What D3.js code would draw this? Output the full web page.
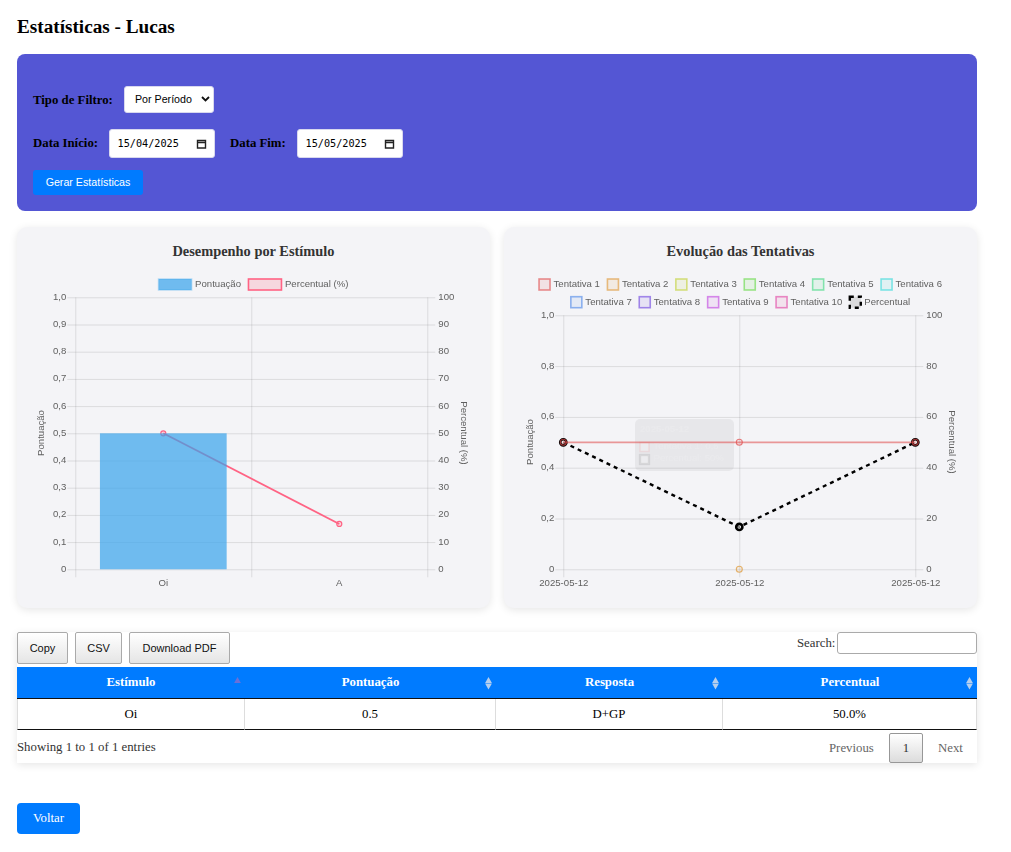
<!DOCTYPE html>
<html lang="pt-BR">
<head>
<meta charset="utf-8">
<title>Estatísticas - Lucas</title>
<script src="https://cdn.jsdelivr.net/npm/d3@7"></script>
<style>
    html, body { margin: 0; padding: 0; background: #fff; }
    body { width: 1011px; height: 852px; position: relative; overflow: hidden; font-family: "Liberation Serif", serif; font-size: 12.8px; color: #000; }
    .abs { position: absolute; box-sizing: border-box; white-space: nowrap; }
    .sans { font-family: "Liberation Sans", sans-serif; }
    h2.abs { margin: 0; left: 17px; top: 16px; font-size: 19.2px; line-height: 22px; }
    .panel { left: 17px; top: 54px; width: 960px; height: 157px; background: #5456d4; border-radius: 8px; }
    .lbl { font-weight: bold; font-size: 12.8px; line-height: 16px; }
    .field { background: #fff; border-radius: 3px; border: 1px solid #d8d8ee; }
    .sel { left: 124px; top: 86px; width: 90px; height: 27px; font-size: 10.67px; line-height: 25px; padding-left: 10px; }
    .date { top: 129px; width: 106px; height: 29px; font-family: "DejaVu Sans Mono", monospace; font-size: 10.2px; line-height: 27px; padding-left: 7.5px; }
    .date svg, .sel svg { position: absolute; }
    .gen { left: 33px; top: 170px; width: 110px; height: 25px; background: #007bff; color: #fff; border-radius: 3px; font-size: 10.67px; line-height: 25px; text-align: center; }
    .card { top: 227px; width: 473px; height: 381px; background: #f4f4f7; border-radius: 10px; box-shadow: 0 2px 8px rgba(0,0,0,.1); }
    .card h3 { margin: 0; position: absolute; left: 0; right: 0; top: 16px; text-align: center; font-size: 14.4px; line-height: 17px; color: #333; }
    .card svg { position: absolute; left: 0; top: 0; filter: blur(.3px); }
    .tablebox { left: 17px; top: 632px; width: 960px; height: 131px; background: #fff; box-shadow: 0 2px 8px rgba(0,0,0,.1); }
    .tbtn { top: 632px; height: 32px; background: linear-gradient(#fff, #e5e5e5); border: 1px solid #aaa; border-radius: 2px; font-size: 11px; line-height: 30px; text-align: center; color: #111; }
    .search { left: 837px; top: 632px; width: 140px; height: 22px; border: 1px solid #aaa; border-radius: 3px; background: #fff; }
    table { position: absolute; left: 17px; top: 667px; width: 960px; border-collapse: separate; border-spacing: 0; table-layout: fixed; }
    th { height: 32px; box-sizing: border-box; padding: 0; background: #007bff; color: #fff; font-size: 12.8px; border-bottom: 1.3px solid #111; }
    td { height: 31px; box-sizing: border-box; padding: 0; text-align: center; font-size: 12.8px; font-weight: normal; border-right: 1.3px solid #ddd; border-bottom: 1.3px solid #111; }
    td:first-child { border-left: 1.3px solid #ddd; }
    .page1 { left: 889px; top: 733px; width: 34px; height: 30px; background: linear-gradient(#fff, #dcdcdc); border: 1px solid #979797; border-radius: 2px; text-align: center; line-height: 28px; color: #333; }
    .pg { top: 740px; line-height: 16px; color: #666; }
    .back { left: 17px; top: 803px; width: 63px; height: 31px; background: #007bff; color: #fff; border-radius: 4px; text-align: center; line-height: 30px; }
    .sort { position: absolute; left: 0; top: 0; pointer-events: none; }
</style>
</head>
<body>
<h2 class="abs">Estatísticas - Lucas</h2>

<div class="abs panel"></div>
<div class="abs lbl" style="left:33px;top:92px">Tipo de Filtro:</div>
<div class="abs field sel sans">Por Período
    <svg width="9" height="6" style="left:76px;top:9px"><path d="M1 1l3.5 3.5L8 1" fill="none" stroke="#111" stroke-width="1.8"/></svg>
</div>
<div class="abs lbl" style="left:33px;top:135px">Data Início:</div>
<div class="abs field date" style="left:109px">15/04/2025
    <svg width="11" height="11" style="left:85.5px;top:8px"><path d="M1.5 2.5h8v7.5h-8zM1.5 4.5h8" fill="none" stroke="#222" stroke-width="1.4"/></svg>
</div>
<div class="abs lbl" style="left:230px;top:135px">Data Fim:</div>
<div class="abs field date" style="left:297px">15/05/2025
    <svg width="11" height="11" style="left:85.5px;top:8px"><path d="M1.5 2.5h8v7.5h-8zM1.5 4.5h8" fill="none" stroke="#222" stroke-width="1.4"/></svg>
</div>
<div class="abs gen sans">Gerar Estatísticas</div>

<div class="abs card" id="card-stimulus" style="left:17px"><h3>Desempenho por Estímulo</h3></div>
<div class="abs card" id="card-attempts" style="left:504px"><h3>Evolução das Tentativas</h3></div>

<div class="abs tablebox"></div>
<div class="abs tbtn sans" style="left:17px;width:51px">Copy</div>
<div class="abs tbtn sans" style="left:75px;width:47px">CSV</div>
<div class="abs tbtn sans" style="left:129px;width:101px">Download PDF</div>
<div class="abs" style="left:797px;top:635px;line-height:16px;color:#333">Search:</div>
<div class="abs search"></div>
<table id="stats-table"><colgroup><col style="width:228px"><col style="width:251px"><col style="width:227px"><col style="width:254px"></colgroup><thead><tr></tr></thead><tbody></tbody></table>
<svg class="sort" id="sort-icons" width="1011" height="852"></svg>
<div class="abs" style="left:17px;top:739px;line-height:16px;color:#333">Showing 1 to 1 of 1 entries</div>
<div class="abs pg" style="left:829px">Previous</div>
<div class="abs page1">1</div>
<div class="abs pg" style="left:938px">Next</div>
<div class="abs back">Voltar</div>

<script>
// Chart 1 data
const stimulusLabels = ['Oi', 'A'];
const stimulusScores = [0.5, 0];
const stimulusPercents = [50, 16.67];

// Chart 2 data
const attemptDates = ['2025-05-12', '2025-05-12', '2025-05-12'];
const attempt1 = [0.5, 0.5, 0.5];
const attempt2 = [null, 0, null];
const attemptPercents = [50, 16.67, 50];
const attemptNames = ['Tentativa 1', 'Tentativa 2', 'Tentativa 3', 'Tentativa 4', 'Tentativa 5',
    'Tentativa 6', 'Tentativa 7', 'Tentativa 8', 'Tentativa 9', 'Tentativa 10'];

// Tick values
const scoreTicks1 = [0, 0.1, 0.2, 0.3, 0.4, 0.5, 0.6, 0.7, 0.8, 0.9, 1];
const percentTicks1 = [0, 10, 20, 30, 40, 50, 60, 70, 80, 90, 100];
const scoreTicks2 = [0, 0.2, 0.4, 0.6, 0.8, 1];
const percentTicks2 = [0, 20, 40, 60, 80, 100];

// Table data
const tableHeaders = ['Estímulo', 'Pontuação', 'Resposta', 'Percentual'];
const tableRow = ['Oi', '0.5', 'D+GP', '50.0%'];

const attemptColors = ['#e04848', '#dd9530', '#bfd030', '#60d840', '#40d880',
    '#30d8d8', '#4a86e8', '#6a40e0', '#c040e0', '#e040a0'];
const PINK = '#ff6384';
const BLUE = 'rgb(54,162,235)';
const GRID = 'rgba(0,0,0,0.1)';
const TEXT = '#5f5f5f';
const FONT = '"Liberation Sans", sans-serif';
const CARD_W = 473, CARD_H = 381;
const TICK = 8;

// comma decimals, and plain 0 like the original axis
const fmtScore = v => v === 0 ? '0' : d3.format('.1f')(v).replace('.', ',');

function makeSvg(id) {
    const svg = d3.select(id).append('svg').attr('width', CARD_W).attr('height', CARD_H)
        .style('font-family', FONT).style('font-size', '9.6px');
    return svg;
}

// horizontal grid plus both value axes, shared by the two charts
function drawValueAxes(svg, box, yLeft, yRight, leftTicks, rightTicks) {
    svg.append('g').attr('transform', `translate(${box.left - TICK},0)`)
        .call(d3.axisRight(yLeft).tickValues(leftTicks).tickFormat('').tickSize(box.width + TICK * 2))
        .call(g => g.select('.domain').remove())
        .call(g => g.selectAll('line').attr('stroke', GRID));

    svg.append('g').attr('transform', `translate(${box.left - TICK},0)`)
        .call(d3.axisLeft(yLeft).tickValues(leftTicks).tickFormat(fmtScore).tickSize(0).tickPadding(1))
        .call(g => g.select('.domain').remove())
        .call(g => g.selectAll('text').attr('y', -1).attr('fill', TEXT).style('font', `9.6px ${FONT}`));

    svg.append('g').attr('transform', `translate(${box.left + box.width + TICK},0)`)
        .call(d3.axisRight(yRight).tickValues(rightTicks).tickSize(0).tickPadding(3))
        .call(g => g.select('.domain').remove())
        .call(g => g.selectAll('text').attr('y', -1).attr('fill', TEXT).style('font', `9.6px ${FONT}`));
}

function axisTitle(svg, text, x, y, angle) {
    svg.append('text').attr('transform', `translate(${x},${y}) rotate(${angle})`)
        .attr('text-anchor', 'middle').attr('dominant-baseline', 'middle')
        .attr('fill', TEXT).text(text);
}

function drawStimulusChart() {
    const svg = makeSvg('#card-stimulus');
    const box = { left: 58.3, top: 70.3, width: 352, height: 272 };
    const bottom = box.top + box.height;

    const x = d3.scaleBand().domain(stimulusLabels).range([box.left, box.left + box.width]);
    const edges = d3.scaleLinear().domain([0, stimulusLabels.length]).range([box.left, box.left + box.width]);
    const barX = d3.scaleBand().domain(stimulusLabels).range([box.left, box.left + box.width]).paddingInner(0.28).paddingOuter(0.14);
    const yScore = d3.scaleLinear().domain([0, 1]).range([bottom, box.top]);
    const yPercent = d3.scaleLinear().domain([0, 100]).range([bottom, box.top]);

    drawValueAxes(svg, box, yScore, yPercent, scoreTicks1, percentTicks1);

    // vertical grid between categories
    svg.append('g').attr('transform', `translate(0,${bottom + TICK})`)
        .call(d3.axisTop(edges).tickValues(d3.range(stimulusLabels.length + 1)).tickFormat('').tickSize(box.height + TICK))
        .call(g => g.select('.domain').remove())
        .call(g => g.selectAll('line').attr('stroke', GRID));

    svg.append('g').attr('transform', `translate(0,${bottom})`)
        .call(d3.axisBottom(x).tickSize(0).tickPadding(10))
        .call(g => g.select('.domain').remove())
        .call(g => g.selectAll('text').attr('fill', TEXT).style('font', `9.6px ${FONT}`));

    axisTitle(svg, 'Pontuação', 24.7, 206, -90);
    axisTitle(svg, 'Percentual (%)', 447, 206, 90);

    // the line sits under the bar, as in the original
    const line = d3.line().x((d, i) => x(stimulusLabels[i]) + x.bandwidth() / 2).y(d => yPercent(d));
    svg.append('path').attr('d', line(stimulusPercents)).attr('fill', 'none').attr('stroke', PINK).attr('stroke-width', 1.8);
    svg.selectAll('.pt').data(stimulusPercents).join('circle').attr('class', 'pt')
        .attr('cx', (d, i) => x(stimulusLabels[i]) + x.bandwidth() / 2)
        .attr('cy', d => yPercent(d)).attr('r', 2.5)
        .attr('fill', 'rgba(255,99,132,0.2)').attr('stroke', PINK).attr('stroke-width', 1.2);

    svg.selectAll('.bar').data(stimulusScores).join('rect').attr('class', 'bar')
        .attr('x', (d, i) => barX(stimulusLabels[i])).attr('width', barX.bandwidth())
        .attr('y', d => yScore(d)).attr('height', d => bottom - yScore(d))
        .attr('fill', BLUE).attr('fill-opacity', 0.7);

    drawLegend(svg, [
        { name: 'Pontuação', fill: BLUE, fillOpacity: 0.7, stroke: BLUE, strokeOpacity: 0.3, w: 33 },
        { name: 'Percentual (%)', fill: PINK, fillOpacity: 0.2, stroke: PINK, strokeOpacity: 1, w: 33 }
    ], 236.5, [52], [[0, 2]]);
}

function drawAttemptsChart() {
    const svg = makeSvg('#card-attempts');
    const box = { left: 59.3, top: 88.3, width: 352, height: 254 };
    const bottom = box.top + box.height;

    const x = d3.scalePoint().domain(d3.range(attemptDates.length)).range([box.left, box.left + box.width]);
    const yScore = d3.scaleLinear().domain([0, 1]).range([bottom, box.top]);
    const yPercent = d3.scaleLinear().domain([0, 100]).range([bottom, box.top]);

    drawValueAxes(svg, box, yScore, yPercent, scoreTicks2, percentTicks2);

    svg.append('g').attr('transform', `translate(0,${bottom + TICK})`)
        .call(d3.axisTop(x).tickFormat('').tickSize(box.height + TICK))
        .call(g => g.select('.domain').remove())
        .call(g => g.selectAll('line').attr('stroke', GRID));

    svg.append('g').attr('transform', `translate(0,${bottom})`)
        .call(d3.axisBottom(x).tickFormat(i => attemptDates[i]).tickSize(0).tickPadding(10))
        .call(g => g.select('.domain').remove())
        .call(g => g.selectAll('text').attr('fill', TEXT).style('font', `9.6px ${FONT}`));

    axisTitle(svg, 'Pontuação', 26, 215, -90);
    axisTitle(svg, 'Percentual (%)', 447.7, 215, 90);

    // tooltip left fading out in the original screenshot
    svg.append('rect').attr('x', 131).attr('y', 192).attr('width', 99).attr('height', 52).attr('rx', 5)
        .attr('fill', '#000').attr('fill-opacity', 0.05);
    const tipText = svg.append('g').attr('fill', '#fff').attr('opacity', 0.12);
    tipText.append('text').attr('x', 136).attr('y', 205).style('font-weight', 'bold').text(attemptDates[1]);
    tipText.append('text').attr('x', 149.5).attr('y', 222).text('Tentativa 1: 0,5');
    tipText.append('text').attr('x', 149.5).attr('y', 234).text('Percentual: 50%');
    svg.append('rect').attr('x', 136).attr('y', 215.5).attr('width', 9).attr('height', 9)
        .attr('fill', '#fff').attr('fill-opacity', 0.2).attr('stroke', attemptColors[0]).attr('stroke-opacity', 0.1).attr('stroke-width', 1.6);
    svg.append('rect').attr('x', 136).attr('y', 228).attr('width', 9).attr('height', 9)
        .attr('fill', '#fff').attr('fill-opacity', 0.2).attr('stroke', '#000').attr('stroke-opacity', 0.09).attr('stroke-width', 2.4);

    const line = d3.line().defined(d => d !== null).x((d, i) => x(i));

    // Percentual first: chart.js paints the first dataset on top
    svg.append('path').attr('d', line.y(d => yPercent(d))(attemptPercents))
        .attr('fill', 'none').attr('stroke', '#000').attr('stroke-width', 2.4).attr('stroke-dasharray', '4,4');
    svg.selectAll('.pct').data(attemptPercents).join('circle').attr('class', 'pct')
        .attr('cx', (d, i) => x(i)).attr('cy', d => yPercent(d)).attr('r', 3.1)
        .attr('fill', 'rgba(255,255,255,0.5)').attr('stroke', '#000').attr('stroke-width', 2.6);

    [[attempt2, 1], [attempt1, 0]].forEach(([values, idx]) => {
        const color = attemptColors[idx];
        svg.append('path').attr('d', line.y(d => yScore(d))(values))
            .attr('fill', 'none').attr('stroke', color).attr('stroke-opacity', 0.55).attr('stroke-width', 1.8);
        svg.selectAll(`.pt${idx}`).data(values.map((v, i) => ({ v, i })).filter(d => d.v !== null)).join('circle')
            .attr('class', `pt${idx}`)
            .attr('cx', d => x(d.i)).attr('cy', d => yScore(d.v)).attr('r', 3)
            .attr('fill', color).attr('fill-opacity', 0.1)
            .attr('stroke', color).attr('stroke-opacity', 0.7).attr('stroke-width', 1.1);
    });

    const items = attemptNames.map((name, i) => ({
        name, fill: attemptColors[i], fillOpacity: 0.1, stroke: attemptColors[i], strokeOpacity: 0.6, w: 11
    }));
    items.push({ name: 'Percentual', fill: '#000', fillOpacity: 0.1, stroke: '#000', strokeOpacity: 1, w: 11, dash: '4,4', sw: 2.4 });
    drawLegend(svg, items, 236.5, [52, 69.7], [[0, 6], [6, 11]]);
}

// centred legend rows, laid out from the measured label widths
function drawLegend(svg, items, center, rowTops, rowRanges) {
    const gap = 3.5, pad = 7.5;
    rowRanges.forEach(([from, to], r) => {
        const row = svg.append('g');
        let cursor = 0;
        items.slice(from, to).forEach((it, i, list) => {
            const g = row.append('g').attr('transform', `translate(${cursor},${rowTops[r]})`);
            g.append('rect').attr('x', 0).attr('y', 0).attr('width', it.w).attr('height', 11)
                .attr('fill', it.fill).attr('fill-opacity', it.fillOpacity)
                .attr('stroke', it.stroke).attr('stroke-opacity', it.strokeOpacity)
                .attr('stroke-width', it.sw || 1.6).attr('stroke-dasharray', it.dash || null);
            const t = g.append('text').attr('x', it.w + gap).attr('y', 5.5).attr('dominant-baseline', 'middle')
                .attr('fill', TEXT).text(it.name);
            cursor += it.w + gap + t.node().getComputedTextLength() + (i < list.length - 1 ? pad : 0);
        });
        row.attr('transform', `translate(${center - cursor / 2},0)`);
    });
}

function drawTable() {
    d3.select('#stats-table thead tr').selectAll('th').data(tableHeaders).join('th').text(d => d);
    d3.select('#stats-table tbody').append('tr').selectAll('td').data(tableRow).join('td').text(d => d);

    // sort arrows at the right end of each header cell
    const icons = d3.select('#sort-icons');
    const cells = document.querySelectorAll('#stats-table th');
    cells.forEach((cell, i) => {
        const box = cell.getBoundingClientRect();
        const cx = box.right - 7.5, cy = box.top + box.height / 2;
        const tri = d3.symbol().type(d3.symbolTriangle).size(20);
        if (i === 0) {
            icons.append('path').attr('d', tri()).attr('fill', '#6a70d8').attr('transform', `translate(${cx},${cy - 2})`);
        } else {
            icons.append('path').attr('d', tri()).attr('fill', '#b5cfee').attr('transform', `translate(${cx},${cy - 2})`);
            icons.append('path').attr('d', tri()).attr('fill', '#b5cfee').attr('transform', `translate(${cx},${cy + 2.5}) rotate(180)`);
        }
    });
}

drawStimulusChart();
drawAttemptsChart();
drawTable();
</script>
</body>
</html>
